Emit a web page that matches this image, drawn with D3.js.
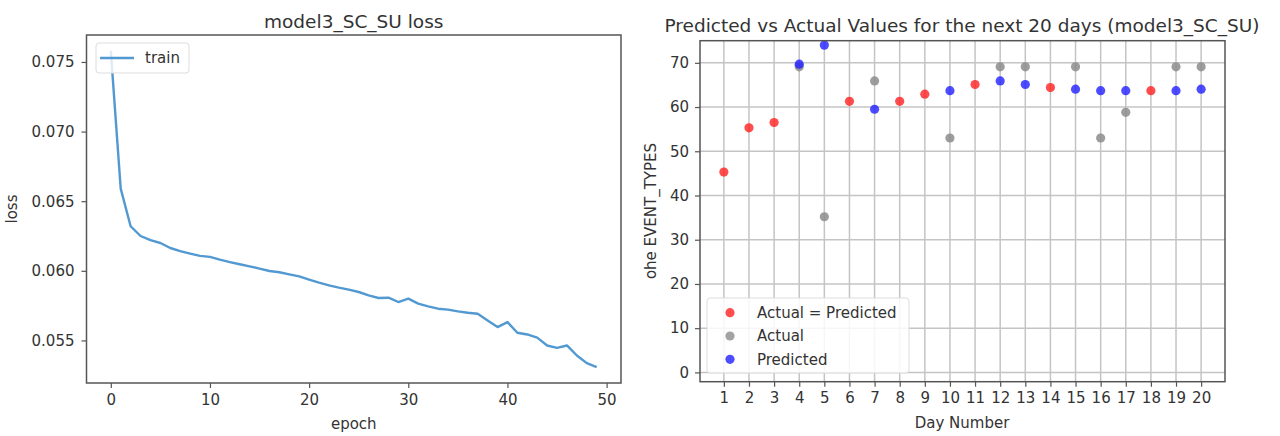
<!DOCTYPE html>
<html>
<head>
<meta charset="utf-8">
<script src="https://cdn.jsdelivr.net/npm/d3@7"></script>
<style>
  body { margin: 0; background: #fff; }
  svg text { font-family: "DejaVu Sans", sans-serif; fill: #333; }
</style>
</head>
<body>
<div id="chart"></div>
<script>
// training loss per epoch (model3_SC_SU)
const lossValues = [0.0758, 0.0659, 0.0632, 0.0625, 0.0622, 0.0620, 0.06164, 0.06142, 0.06124, 0.06107,
  0.06100, 0.0608, 0.06063, 0.06047, 0.06032, 0.06016, 0.05999, 0.0599, 0.05975, 0.0596,
  0.05937, 0.05915, 0.05896, 0.05879, 0.05865, 0.05848, 0.05824, 0.05805, 0.05807, 0.05776,
  0.05800, 0.05764, 0.05745, 0.05728, 0.05721, 0.05709, 0.05699, 0.05692, 0.05644, 0.05596,
  0.05632, 0.05555, 0.05543, 0.0552, 0.05464, 0.05447, 0.05464, 0.05392, 0.05337, 0.05308];
const lossTicksX = [0, 10, 20, 30, 40, 50];
const lossTicksY = [0.055, 0.060, 0.065, 0.070, 0.075];

// predicted vs actual for the next 20 days
const days = d3.range(1, 21);
const actual = [45.3, 55.3, 56.5, 69.1, 35.2, 61.3, 65.9, 61.3, 62.9, 53.0,
  65.1, 69.1, 69.1, 64.4, 69.1, 53.0, 58.8, 63.7, 69.1, 69.1];
const predicted = [45.3, 55.3, 56.5, 69.7, 74.0, 61.3, 59.5, 61.3, 62.9, 63.7,
  65.1, 65.9, 65.1, 64.4, 64.05, 63.7, 63.7, 63.7, 63.7, 64.05];
const predTicksY = [0, 10, 20, 30, 40, 50, 60, 70];
const legendLabels = ["Actual = Predicted", "Actual", "Predicted"];

const W = 1280, H = 436;
const svg = d3.select("#chart").append("svg")
  .attr("width", W).attr("height", H);

const tickFont = 15, titleFont = 18.5;
const spine = "#555";

// ---------- left: loss ----------
let lx = d3.scaleLinear().domain([-2.45, 51.45]).range([86.5, 621]);
let lmin = d3.min(lossValues), lmax = d3.max(lossValues), lpad = (lmax - lmin) * 0.05;
let ly = d3.scaleLinear().domain([lmin - lpad, lmax + lpad]).range([383, 35]);

let left = svg.append("g");

let line = d3.line().x((d, i) => lx(i)).y(d => ly(d));
left.append("path")
  .datum(lossValues)
  .attr("d", line)
  .attr("fill", "none")
  .attr("stroke", "#5299d2")
  .attr("stroke-width", 2.4)
  .attr("stroke-linejoin", "round");

left.append("g")
  .attr("transform", "translate(0,383)")
  .call(d3.axisBottom(lx).tickValues(lossTicksX).tickSize(5).tickPadding(6).tickFormat(d3.format("d")));
left.append("g")
  .attr("transform", "translate(86.5,0)")
  .call(d3.axisLeft(ly).tickValues(lossTicksY).tickSize(5).tickPadding(7).tickFormat(d3.format(".3f")));

left.append("rect")
  .attr("x", 86.5).attr("y", 35).attr("width", 621 - 86.5).attr("height", 383 - 35)
  .attr("fill", "none").attr("stroke", spine).attr("stroke-width", 1.5);

left.append("text").attr("x", 353.75).attr("y", 28).attr("text-anchor", "middle")
  .style("font-size", titleFont + "px").text("model3_SC_SU loss");
left.append("text").attr("x", 353.75).attr("y", 429).attr("text-anchor", "middle")
  .style("font-size", tickFont + "px").text("epoch");
left.append("text").attr("transform", "translate(17,209) rotate(-90)").attr("text-anchor", "middle")
  .style("font-size", tickFont + "px").text("loss");

// legend
left.append("rect").attr("x", 96).attr("y", 43).attr("width", 93).attr("height", 30).attr("rx", 3)
  .attr("fill", "#fff").attr("fill-opacity", 0.8).attr("stroke", "#ddd");
left.append("line").attr("x1", 100).attr("x2", 134).attr("y1", 58).attr("y2", 58)
  .attr("stroke", "#5299d2").attr("stroke-width", 2.4);
left.append("text").attr("x", 145).attr("y", 63).style("font-size", tickFont + "px").text("train");

// ---------- right: predicted vs actual ----------
let rx = d3.scaleLinear().domain([0.05, 20.95]).range([700, 1225]);
let ry = d3.scaleLinear().domain([-2.1, 75]).range([381.7, 40.7]);

let right = svg.append("g");

// grid
right.append("g").selectAll("line").data(days).enter().append("line")
  .attr("x1", d => rx(d)).attr("x2", d => rx(d)).attr("y1", ry(75)).attr("y2", ry(-2.1))
  .attr("stroke", "#c4c4c4").attr("stroke-width", 1.5);
right.append("g").selectAll("line").data(predTicksY).enter().append("line")
  .attr("y1", d => ry(d)).attr("y2", d => ry(d)).attr("x1", rx(0.05)).attr("x2", rx(20.95))
  .attr("stroke", "#c4c4c4").attr("stroke-width", 1.5);

let pts = days.map((d, i) => ({ day: d, a: actual[i], p: predicted[i], same: actual[i] === predicted[i] }));

const colRed = "#ff2020", colGrey = "#8c8c8c", colBlue = "#2020ff";
const r = 4.6;

right.append("g").selectAll("circle").data(pts.filter(d => d.same)).enter().append("circle")
  .attr("cx", d => rx(d.day)).attr("cy", d => ry(d.a)).attr("r", r)
  .attr("fill", colRed).attr("fill-opacity", 0.8);
right.append("g").selectAll("circle").data(pts.filter(d => !d.same)).enter().append("circle")
  .attr("cx", d => rx(d.day)).attr("cy", d => ry(d.a)).attr("r", r)
  .attr("fill", colGrey).attr("fill-opacity", 0.85);
right.append("g").selectAll("circle").data(pts.filter(d => !d.same)).enter().append("circle")
  .attr("cx", d => rx(d.day)).attr("cy", d => ry(d.p)).attr("r", r)
  .attr("fill", colBlue).attr("fill-opacity", 0.8);

right.append("g")
  .attr("transform", "translate(0,381.7)")
  .call(d3.axisBottom(rx).tickValues(days).tickSize(5).tickPadding(6).tickFormat(d3.format("d")));
right.append("g")
  .attr("transform", "translate(700,0)")
  .call(d3.axisLeft(ry).tickValues(predTicksY).tickSize(5).tickPadding(6).tickFormat(d3.format("d")));

right.append("rect")
  .attr("x", 700).attr("y", 40.7).attr("width", 525).attr("height", 381.7 - 40.7)
  .attr("fill", "none").attr("stroke", spine).attr("stroke-width", 1.5);

right.append("text").attr("x", 962).attr("y", 32).attr("text-anchor", "middle")
  .style("font-size", titleFont + "px").text("Predicted vs Actual Values for the next 20 days (model3_SC_SU)");
right.append("text").attr("x", 962).attr("y", 428).attr("text-anchor", "middle")
  .style("font-size", tickFont + "px").text("Day Number");
right.append("text").attr("transform", "translate(656,211) rotate(-90)").attr("text-anchor", "middle")
  .style("font-size", tickFont + "px").text("ohe EVENT_TYPES");

// legend
let lg = right.append("g");
lg.append("rect").attr("x", 707).attr("y", 298).attr("width", 202).attr("height", 75).attr("rx", 3)
  .attr("fill", "#fff").attr("fill-opacity", 0.85).attr("stroke", "#ddd");
let legendColors = [colRed, colGrey, colBlue];
lg.selectAll("circle").data(legendLabels).enter().append("circle")
  .attr("cx", 730).attr("cy", (d, i) => 312.7 + i * 23.3).attr("r", r)
  .attr("fill", (d, i) => legendColors[i]).attr("fill-opacity", 0.8);
lg.selectAll("text").data(legendLabels).enter().append("text")
  .attr("x", 757).attr("y", (d, i) => 318 + i * 23.3)
  .style("font-size", tickFont + "px").text(d => d);

// axis styling
svg.selectAll(".domain").remove();
svg.selectAll(".tick line").attr("stroke", spine).attr("stroke-width", 1.2);
svg.selectAll(".tick text").style("font-size", tickFont + "px").attr("fill", "#333")
  .style("font-family", "'DejaVu Sans', sans-serif");
</script>
</body>
</html>
